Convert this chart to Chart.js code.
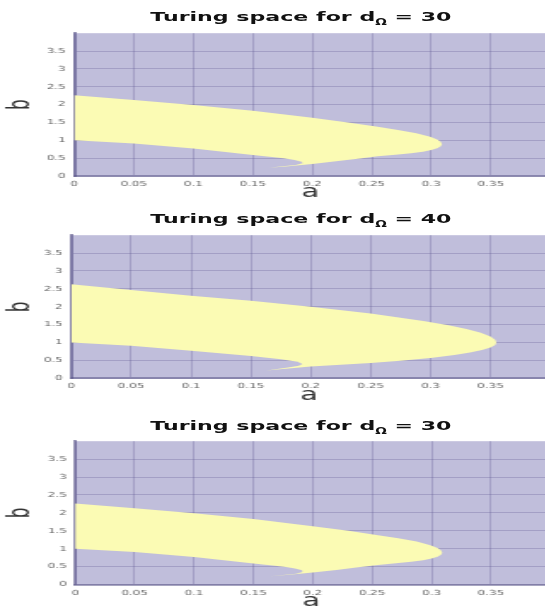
<!DOCTYPE html>
<html>
<head>
<meta charset="utf-8">
<script src="https://cdn.jsdelivr.net/npm/chart.js@4.4.0/dist/chart.umd.min.js"></script>
<style>
  html, body { margin: 0; padding: 0; background: #fff; overflow: hidden; }
  body { width: 545px; height: 607px; position: relative; }
  /* the original figure is stretched sideways, so draw narrow and widen */
  #stage { position: absolute; left: 0; top: 0; width: 320.6px; height: 607px; transform: scaleX(1.7); transform-origin: 0 0; }
  .title { position: absolute; left: 0; width: 354px; text-align: center; font: bold 13px "DejaVu Sans", sans-serif; line-height: 16px; color: #111; white-space: nowrap; }
  .title sub { font-size: 8px; vertical-align: -4px; line-height: 0; }
  .box { position: absolute; left: 0; width: 320.6px; }
</style>
</head>
<body>
<div id="stage">
  <div class="title" style="top:8.5px">Turing space for d<sub>Ω</sub> = 30</div>
  <div class="box" style="top:23.7px;height:180px"><canvas id="c1"></canvas></div>
  <div class="title" style="top:211px">Turing space for d<sub>Ω</sub> = 40</div>
  <div class="box" style="top:226px;height:180.3px"><canvas id="c2"></canvas></div>
  <div class="title" style="top:417.5px">Turing space for d<sub>Ω</sub> = 30</div>
  <div class="box" style="top:431.7px;height:180.6px"><canvas id="c3"></canvas></div>
</div>
<script>
const xTicks = [0, 0.05, 0.1, 0.15, 0.2, 0.25, 0.3, 0.35];
const yTicks = [0, 0.5, 1, 1.5, 2, 2.5, 3, 3.5];

// outline of the Turing region for d = 30: outer edge to the tail, then the notch back to a = 0
const a30 = [0, 0.05, 0.1, 0.15, 0.2, 0.23, 0.255, 0.272, 0.2875, 0.299, 0.305, 0.308, 0.309,
             0.308, 0.305, 0.3, 0.293, 0.283, 0.27, 0.255, 0.24, 0.22, 0.2, 0.18, 0.164,
             0.175, 0.186, 0.192, 0.191, 0.185, 0.176, 0.15, 0.125, 0.1, 0.05, 0];
const b30 = [2.26, 2.13, 1.99, 1.83, 1.63, 1.5, 1.38, 1.29, 1.2, 1.1, 1.02, 0.95, 0.89,
             0.83, 0.78, 0.73, 0.68, 0.635, 0.595, 0.55, 0.49, 0.41, 0.335, 0.275, 0.232,
             0.27, 0.305, 0.355, 0.4, 0.45, 0.5, 0.59, 0.68, 0.77, 0.91, 1.0];

// same for d = 40
const a40 = [0, 0.05, 0.1, 0.15, 0.2, 0.25, 0.294, 0.315, 0.33, 0.342, 0.35, 0.354, 0.355,
             0.354, 0.35, 0.343, 0.333, 0.32, 0.3, 0.275, 0.25, 0.2, 0.172, 0.15,
             0.163, 0.181, 0.19, 0.193, 0.189, 0.175, 0.15, 0.1, 0.05, 0];
const b40 = [2.63, 2.47, 2.31, 2.17, 2.0, 1.81, 1.6, 1.48, 1.38, 1.27, 1.17, 1.08, 1.0,
             0.93, 0.86, 0.79, 0.72, 0.65, 0.57, 0.49, 0.43, 0.33, 0.245, 0.175,
             0.215, 0.3, 0.35, 0.4, 0.46, 0.53, 0.62, 0.77, 0.91, 1.0];

const SX = 1.7;
const PURPLE = '#c0bedb';
const YELLOW = '#fbfbb4';
const GRID = 'rgba(95, 90, 145, 0.3)';

const plotBg = {
    id: 'plotBg',
    beforeDraw(chart) {
        const {ctx, chartArea: {left, top, width, height}} = chart;
        ctx.save();
        ctx.fillStyle = PURPLE;
        ctx.fillRect(left, top, width, height);
        ctx.restore();
    }
};

function makeChart(id, aVals, bVals, leftPx) {
    const pts = aVals.map((a, i) => ({x: a, y: bVals[i]}));
    return new Chart(document.getElementById(id), {
        type: 'scatter',
        data: {
            datasets: [{
                data: pts,
                showLine: true,
                fill: 'shape',
                backgroundColor: YELLOW,
                borderColor: 'rgba(0,0,0,0)',
                borderWidth: 0,
                pointRadius: 0,
                tension: 0
            }]
        },
        options: {
            responsive: true,
            maintainAspectRatio: false,
            animation: false,
            layout: { padding: { top: 4, left: 0, right: 0, bottom: 0 } },
            plugins: { legend: { display: false }, tooltip: { enabled: false } },
            scales: {
                x: {
                    type: 'linear', min: 0, max: 0.397, z: 1,
                    afterBuildTicks: s => { s.ticks = xTicks.map(v => ({value: v})); },
                    afterFit: s => { s.height = 28; },
                    grid: { color: GRID, lineWidth: 1, drawTicks: false },
                    border: { display: true, color: 'rgba(80, 75, 130, 0.5)', width: 2 },
                    ticks: { padding: 4, maxRotation: 0, autoSkip: false, color: '#666',
                             font: { family: 'DejaVu Sans', size: 7 }, callback: v => String(v) },
                    title: { display: true, text: 'a', color: '#333', padding: { top: 0, bottom: 1 },
                             font: { family: 'DejaVu Sans', size: 17 } }
                },
                y: {
                    type: 'linear', min: 0, max: 4, z: 1,
                    afterBuildTicks: s => { s.ticks = yTicks.map(v => ({value: v})); },
                    afterFit: s => { s.width = leftPx / SX; },
                    grid: { color: GRID, lineWidth: 1, drawTicks: false },
                    border: { display: true, color: 'rgba(80, 75, 130, 0.6)', width: 2 },
                    ticks: { padding: 5, color: '#666',
                             font: { family: 'DejaVu Sans', size: 7 }, callback: v => String(v) },
                    title: { display: true, text: 'b', color: '#333', padding: { top: 2.5, bottom: 0 },
                             font: { family: 'DejaVu Sans', size: 17 } }
                }
            }
        },
        plugins: [plotBg]
    });
}

makeChart('c1', a30, b30, 74);
makeChart('c2', a40, b40, 71);
makeChart('c3', a30, b30, 75);
</script>
</body>
</html>
